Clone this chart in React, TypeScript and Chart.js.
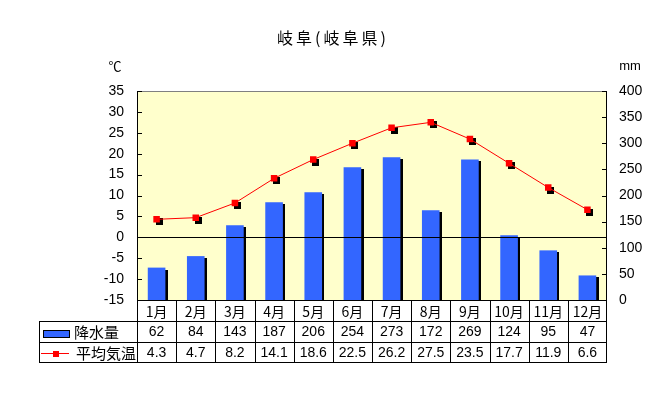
import React, { useEffect, useRef } from "react";
import { Chart, registerables } from "chart.js";

Chart.register(...registerables);

const title = "岐阜(岐阜県)";
const months = ["1月", "2月", "3月", "4月", "5月", "6月", "7月", "8月", "9月", "10月", "11月", "12月"];
const precipitation = [62, 84, 143, 187, 206, 254, 273, 172, 269, 124, 95, 47];
const temperature = [4.3, 4.7, 8.2, 14.1, 18.6, 22.5, 26.2, 27.5, 23.5, 17.7, 11.9, 6.6];
const precipLabel = "降水量";
const tempLabel = "平均気温";
const tempUnit = "℃";
const precipUnit = "mm";
const tempMin = -15;
const tempMax = 35;
const tempStep = 5;
const precipMin = 0;
const precipMax = 400;
const precipStep = 50;

const FONT = "'Liberation Sans', 'Noto Sans CJK JP', sans-serif";
const JFONT = "'Noto Sans CJK JP', 'Liberation Sans', sans-serif";

const customPlugin = {
  id: "custom",
  beforeDraw(chart: any) {
    const { ctx, chartArea } = chart;
    ctx.save();
    ctx.fillStyle = "#ffffff";
    ctx.fillRect(0, 0, chart.width, chart.height);
    ctx.fillStyle = "#FFFFCC";
    ctx.fillRect(chartArea.left, chartArea.top, chartArea.right - chartArea.left, chartArea.bottom - chartArea.top);
    ctx.restore();
  },
  beforeDatasetDraw(chart: any, args: any) {
    const { ctx } = chart;
    const meta = chart.getDatasetMeta(args.index);
    ctx.save();
    ctx.fillStyle = "#000000";
    if (args.index === 0) {
      meta.data.forEach((el: any) => {
        const p = el.getProps(["x", "y", "base", "width"], true);
        const l = Math.round(p.x - p.width / 2) + 2;
        const t = Math.round(p.y) + 2;
        ctx.fillRect(l, t, Math.round(p.width), Math.round(p.base) - t);
      });
    } else if (args.index === 1) {
      meta.data.forEach((el: any) => {
        const p = el.getProps(["x", "y"], true);
        ctx.fillRect(Math.round(p.x) - 3 + 2, Math.round(p.y) - 3 + 2, 7, 7);
      });
    }
    ctx.restore();
  },
  afterDatasetsDraw(chart: any) {
    const { ctx, chartArea, scales } = chart;
    const { left, right, top, bottom } = chartArea;
    const yT = scales.y;
    const yP = scales.y1;
    const xs = scales.x;
    ctx.save();
    ctx.lineWidth = 1;
    // zero line
    const y0 = Math.round(yT.getPixelForValue(0)) + 0.5;
    ctx.strokeStyle = "#000000";
    ctx.beginPath();
    ctx.moveTo(left, y0);
    ctx.lineTo(right, y0);
    ctx.stroke();
    // top border
    ctx.strokeStyle = "#808080";
    ctx.beginPath();
    ctx.moveTo(left, top + 0.5);
    ctx.lineTo(right, top + 0.5);
    ctx.stroke();
    // axes
    ctx.strokeStyle = "#000000";
    ctx.beginPath();
    ctx.moveTo(left + 0.5, top);
    ctx.lineTo(left + 0.5, bottom);
    ctx.moveTo(right - 0.5, top);
    ctx.lineTo(right - 0.5, bottom);
    ctx.stroke();
    // ticks (inward)
    ctx.beginPath();
    yT.ticks.forEach((t: any) => {
      const py = Math.round(yT.getPixelForValue(t.value)) + 0.5;
      ctx.moveTo(left, py);
      ctx.lineTo(left + 5, py);
    });
    yP.ticks.forEach((t: any) => {
      const py = Math.round(yP.getPixelForValue(t.value)) + 0.5;
      ctx.moveTo(right - 5, py);
      ctx.lineTo(right, py);
    });
    ctx.stroke();

    // table
    const n = months.length;
    const colW = (right - left) / n;
    const r0 = bottom;
    const r1 = r0 + 21;
    const r2 = r1 + 21;
    const r3 = r2 + 20;
    const tl = 39;
    ctx.beginPath();
    ctx.moveTo(left, r0 + 0.5);
    ctx.lineTo(right, r0 + 0.5);
    ctx.moveTo(tl, r1 + 0.5);
    ctx.lineTo(right, r1 + 0.5);
    ctx.moveTo(tl, r2 + 0.5);
    ctx.lineTo(right, r2 + 0.5);
    ctx.moveTo(tl, r3 + 0.5);
    ctx.lineTo(right, r3 + 0.5);
    ctx.moveTo(tl + 0.5, r1);
    ctx.lineTo(tl + 0.5, r3);
    for (let i = 0; i <= n; i++) {
      const cx = Math.round(left + i * colW) + (i === n ? -0.5 : 0.5);
      ctx.moveTo(cx, r0);
      ctx.lineTo(cx, r3);
    }
    ctx.stroke();

    ctx.fillStyle = "#000000";
    ctx.textAlign = "center";
    ctx.textBaseline = "middle";
    ctx.font = `14px ${JFONT}`;
    months.forEach((m, i) => {
      ctx.fillText(m, xs.getPixelForValue(i), (r0 + r1) / 2 + 1);
    });
    ctx.font = `14px ${FONT}`;
    precipitation.forEach((v, i) => {
      ctx.fillText(String(v), xs.getPixelForValue(i), (r1 + r2) / 2 + 1);
    });
    temperature.forEach((v, i) => {
      ctx.fillText(v.toFixed(1), xs.getPixelForValue(i), (r2 + r3) / 2 + 1);
    });

    // legend cells
    ctx.fillStyle = "#3366FF";
    ctx.fillRect(43, 330, 26, 7);
    ctx.strokeStyle = "#000000";
    ctx.strokeRect(43.5, 330.5, 26, 7);
    ctx.strokeStyle = "#FF0000";
    ctx.beginPath();
    ctx.moveTo(41, 353.5);
    ctx.lineTo(69, 353.5);
    ctx.stroke();
    ctx.fillStyle = "#FF0000";
    ctx.fillRect(53, 351, 6, 6);
    ctx.fillStyle = "#000000";
    ctx.textAlign = "left";
    ctx.font = `15px ${JFONT}`;
    ctx.fillText(precipLabel, 74, (r1 + r2) / 2 + 1);
    ctx.fillText(tempLabel, 76, (r2 + r3) / 2 + 1);

    // title & units
    ctx.textAlign = "center";
    ctx.font = `16px ${JFONT}`;
    try { (ctx as any).letterSpacing = "3px"; } catch (e) {}
    ctx.fillText(title, 333, 38);
    try { (ctx as any).letterSpacing = "0px"; } catch (e) {}
    ctx.font = `13px ${JFONT}`;
    ctx.fillText(tempUnit, 115, 66);
    ctx.font = `13px ${FONT}`;
    ctx.fillText(precipUnit, 630, 66);
    ctx.restore();
  },
};

export default function App() {
  const ref = useRef<HTMLCanvasElement | null>(null);
  useEffect(() => {
    document.body.style.margin = "0";
    const canvas = ref.current;
    if (!canvas) return;
    const chart = new Chart(canvas, {
      type: "bar",
      data: {
        labels: months,
        datasets: [
          {
            type: "bar",
            label: precipLabel,
            data: precipitation,
            yAxisID: "y1",
            backgroundColor: "#3366FF",
            borderWidth: 0,
            barPercentage: 0.45,
            categoryPercentage: 1,
            order: 2,
          },
          {
            type: "line",
            label: tempLabel,
            data: temperature,
            yAxisID: "y",
            borderColor: "#FF0000",
            borderWidth: 1,
            backgroundColor: "#FF0000",
            pointStyle: "rect",
            pointRadius: 4.6,
            pointBorderWidth: 0,
            pointBackgroundColor: "#FF0000",
            tension: 0,
            order: 1,
          } as any,
        ],
      },
      options: {
        responsive: false,
        animation: false,
        devicePixelRatio: 1,
        layout: { padding: { top: 91, bottom: 99, left: 0, right: 0 }, autoPadding: false } as any,
        plugins: { legend: { display: false }, title: { display: false }, tooltip: { enabled: false } },
        scales: {
          x: { display: false, offset: true },
          y: {
            position: "left",
            min: tempMin,
            max: tempMax,
            grid: { display: false, drawTicks: false },
            border: { display: false },
            ticks: { stepSize: tempStep, color: "#000", padding: 13, font: { size: 14, family: FONT } },
            afterFit: (s: any) => { s.width = 137; },
          },
          y1: {
            position: "right",
            min: precipMin,
            max: precipMax,
            grid: { display: false, drawTicks: false },
            border: { display: false },
            ticks: { stepSize: precipStep, color: "#000", padding: 12, font: { size: 14, family: FONT } },
            afterFit: (s: any) => { s.width = 52; },
          },
        },
      },
      plugins: [customPlugin],
    });
    return () => chart.destroy();
  }, []);
  return <canvas ref={ref} width={659} height={399} style={{ display: "block" }} />;
}
